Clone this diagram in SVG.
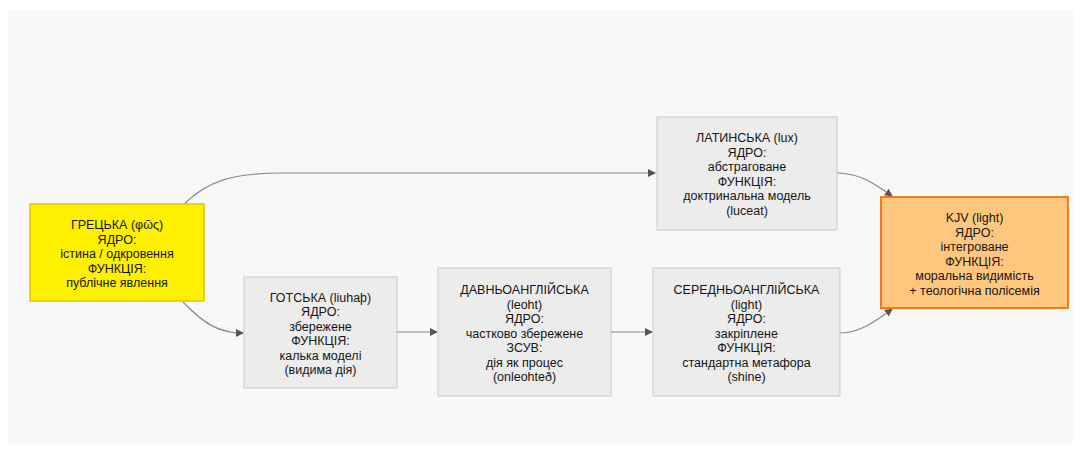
<svg xmlns="http://www.w3.org/2000/svg" width="1081" height="453" viewBox="0 0 1081 453">
<style>
.bg{fill:#f8f8f8}
.gray{fill:#ececec;stroke:#c9c9c9;stroke-width:1}
.greek{fill:#fff000;stroke:#e8c000;stroke-width:1.5}
.kjv{fill:#ffc77d;stroke:#f5781f;stroke-width:2}
text{font-family:"Liberation Sans",Arial,sans-serif;font-size:12.5px;fill:#151515;text-anchor:middle;dominant-baseline:central}
.edge{fill:none;stroke:#888;stroke-width:1.2}
</style>
<defs>
<marker id="arr" markerWidth="8" markerHeight="8" refX="7" refY="4" orient="auto" markerUnits="userSpaceOnUse">
<path d="M0,0 L8,4 L0,8 z" fill="#555"/>
</marker>
</defs>
<rect class="bg" x="8" y="10" width="1065" height="434"/>
<g id="edges">
<path class="edge" d="M184,204 C208,181 232,173 282,173 L655,173" marker-end="url(#arr)"/>
<path class="edge" d="M183,302 C205,325 220,333 243,333" marker-end="url(#arr)"/>
<path class="edge" d="M397,332 L437,332" marker-end="url(#arr)"/>
<path class="edge" d="M611,332 L652,332" marker-end="url(#arr)"/>
<path class="edge" d="M837,173 C860,173 875,184 892,196" marker-end="url(#arr)"/>
<path class="edge" d="M840,333 C860,333 876,321 892,309" marker-end="url(#arr)"/>
</g>
<g id="greek">
<rect class="greek" x="30" y="204" width="174" height="97"/>
<text x="117" y="225">ГРЕЦЬКА (φῶς)</text>
<text x="117" y="239.5">ЯДРО:</text>
<text x="117" y="254">істина / одкровення</text>
<text x="117" y="268.5">ФУНКЦІЯ:</text>
<text x="117" y="283">публічне явлення</text>
</g>
<g id="gothic">
<rect class="gray" x="244" y="277" width="153" height="111"/>
<text x="320.5" y="297.5">ГОТСЬКА (liuhaþ)</text>
<text x="320.5" y="312">ЯДРО:</text>
<text x="320.5" y="326.5">збережене</text>
<text x="320.5" y="341">ФУНКЦІЯ:</text>
<text x="320.5" y="355.5">калька моделі</text>
<text x="320.5" y="370">(видима дія)</text>
</g>
<g id="oldenglish">
<rect class="gray" x="438" y="268" width="173" height="128"/>
<text x="524.5" y="290">ДАВНЬОАНГЛІЙСЬКА</text>
<text x="524.5" y="304.5">(leoht)</text>
<text x="524.5" y="319">ЯДРО:</text>
<text x="524.5" y="333.5">частково збережене</text>
<text x="524.5" y="348">ЗСУВ:</text>
<text x="524.5" y="362.5">дія як процес</text>
<text x="524.5" y="377">(onleohteð)</text>
</g>
<g id="middleenglish">
<rect class="gray" x="653" y="268" width="187" height="128"/>
<text x="746.5" y="290">СЕРЕДНЬОАНГЛІЙСЬКА</text>
<text x="746.5" y="304.5">(light)</text>
<text x="746.5" y="319">ЯДРО:</text>
<text x="746.5" y="333.5">закріплене</text>
<text x="746.5" y="348">ФУНКЦІЯ:</text>
<text x="746.5" y="362.5">стандартна метафора</text>
<text x="746.5" y="377">(shine)</text>
</g>
<g id="latin">
<rect class="gray" x="657" y="117" width="180" height="113"/>
<text x="747" y="138">ЛАТИНСЬКА (lux)</text>
<text x="747" y="152.5">ЯДРО:</text>
<text x="747" y="167">абстраговане</text>
<text x="747" y="181.5">ФУНКЦІЯ:</text>
<text x="747" y="196">доктринальна модель</text>
<text x="747" y="210.5">(luceat)</text>
</g>
<g id="kjv">
<rect class="kjv" x="881" y="197" width="187" height="111"/>
<text x="974.5" y="218">KJV (light)</text>
<text x="974.5" y="232.5">ЯДРО:</text>
<text x="974.5" y="247">інтегроване</text>
<text x="974.5" y="261.5">ФУНКЦІЯ:</text>
<text x="974.5" y="276">моральна видимість</text>
<text x="974.5" y="290.5">+ теологічна полісемія</text>
</g>
</svg>
